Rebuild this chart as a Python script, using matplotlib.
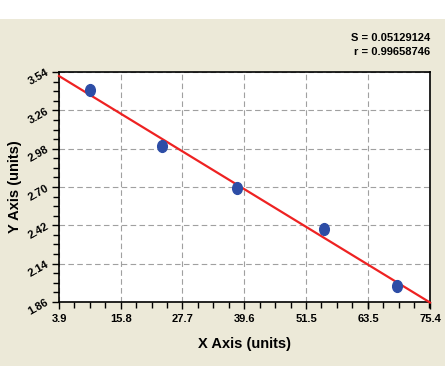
import numpy as np
import matplotlib
matplotlib.use("Agg")
from matplotlib import pyplot as plt
from matplotlib.patches import Rectangle
from matplotlib.path import Path
from matplotlib.transforms import Affine2D
from matplotlib.ticker import AutoMinorLocator

# standard points
conc = [9.9, 23.8, 38.2, 55.0, 69.1]
od = [3.41, 3.00, 2.69, 2.39, 1.98]

x_ticks = [3.9, 15.8, 27.7, 39.6, 51.5, 63.5, 75.4]
y_ticks = [1.86, 2.14, 2.42, 2.70, 2.98, 3.26, 3.54]
y_labels = ["1.86", "2.14", "2.42", "2.70", "2.98", "3.26", "3.54"]

s_text = "S = 0.05129124"
r_text = "r = 0.99658746"

plt.rcParams['font.family'] = ['Liberation Sans', 'DejaVu Sans']
plt.rcParams['font.weight'] = 'bold'

fig = plt.figure(figsize=(4.46, 3.73), dpi=100)
# beige panel behind the chart
fig.patches.append(Rectangle((0, 7 / 373), 445 / 446, 347 / 373,
                             transform=fig.transFigure, facecolor="#ECE9D8",
                             edgecolor="none", zorder=-5))

ax = fig.add_axes([59 / 446, 1 - 302 / 373, 371 / 446, 230 / 373])
ax.set_facecolor("white")

slope, icpt = np.polyfit(conc, od, 1)
xs = np.array([x_ticks[0], x_ticks[-1]])
ax.plot(xs, slope * xs + icpt, color="#EE2222", lw=1.6, zorder=3, clip_on=False)

oval = Path.unit_circle().transformed(Affine2D().scale(1.0, 1.22))
ax.plot(conc, od, linestyle="none", marker=oval, markersize=8.5,
        color="#2D4DA6", zorder=4)

ax.set_xlim(x_ticks[0], x_ticks[-1])
ax.set_ylim(y_ticks[0], y_ticks[-1])
ax.set_xticks(x_ticks)
ax.set_xticklabels([str(t) for t in x_ticks], fontsize=8, fontweight="bold")
ax.set_yticks(y_ticks)
ax.set_yticklabels(y_labels, fontsize=8, fontweight="bold", rotation=30,
                   ha="right", va="center", rotation_mode="anchor")
ax.xaxis.set_minor_locator(AutoMinorLocator(4))
ax.yaxis.set_minor_locator(AutoMinorLocator(4))
ax.tick_params(which="major", direction="out", length=5, width=1, pad=4)
ax.tick_params(which="minor", direction="out", length=4, width=1)
ax.tick_params(axis="y", pad=3)

ax.grid(True, which="major", color="#A0A0A0", linestyle=(0, (5, 3)), lw=0.8)
for sp in ax.spines.values():
    sp.set_linewidth(1.2)
    sp.set_color("black")

ax.set_xlabel("X Axis (units)", fontsize=10.5, fontweight="bold", labelpad=9)
ax.set_ylabel("Y Axis (units)", fontsize=10.5, fontweight="bold", labelpad=3)

fig.text(430 / 446, 1 - 38 / 373, s_text, ha="right", va="center",
         fontsize=8, fontweight="bold")
fig.text(430 / 446, 1 - 52 / 373, r_text, ha="right", va="center",
         fontsize=8, fontweight="bold")

fig.savefig("out.png", dpi=100)
